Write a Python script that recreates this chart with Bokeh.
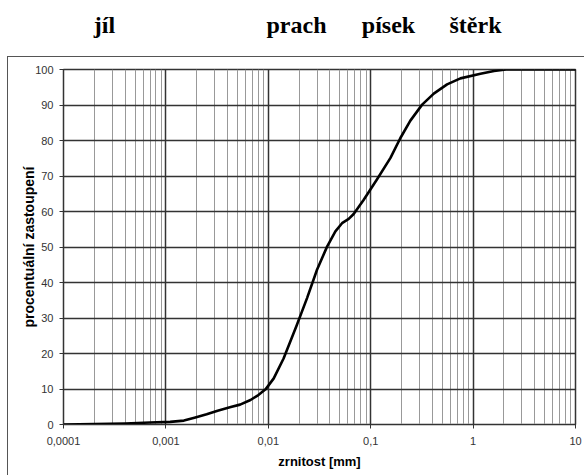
from bokeh.plotting import figure
from bokeh.layouts import column
from bokeh.models import Range1d, FixedTicker, CustomJSTickFormatter, Label
from bokeh.embed import file_html
from bokeh.resources import INLINE

# ---- data ----
grain_mm = [0.0001, 0.0002, 0.0004, 0.0007, 0.0011, 0.0015, 0.0019, 0.0025,
            0.0032, 0.0043, 0.0053, 0.0067, 0.008, 0.0094, 0.0113, 0.0141,
            0.019, 0.0239, 0.0299, 0.0375, 0.0452, 0.0525, 0.061, 0.0682,
            0.0855, 0.115, 0.156, 0.195, 0.244, 0.318, 0.413, 0.557, 0.752,
            1.18, 1.6, 2.1, 5.0, 10.0]
passing_pct = [0.0, 0.1, 0.3, 0.55, 0.75, 1.1, 1.9, 2.9,
               3.9, 4.9, 5.6, 6.9, 8.3, 9.9, 13.0, 18.6,
               28.0, 35.6, 43.6, 50.1, 54.4, 56.7, 57.9, 59.3,
               63.3, 69.0, 75.1, 80.7, 85.6, 90.1, 93.2, 95.8, 97.5,
               98.8, 99.6, 100.0, 100.0, 100.0]

x_ticks = [0.0001, 0.001, 0.01, 0.1, 1, 10]
x_tick_labels = ["0,0001", "0,001", "0,01", "0,1", "1", "10"]
x_minor = [m * d for d in [0.0001, 0.001, 0.01, 0.1, 1] for m in range(2, 10)]
y_ticks = list(range(0, 101, 10))

zone_names = ["jíl", "prach", "písek", "štěrk"]
zone_label_px = [104, 296, 388, 475]

# ---- header with the soil class names ----
top = figure(width=584, height=56, output_backend="svg", toolbar_location=None,
             x_range=Range1d(0, 584), y_range=Range1d(0, 56),
             x_axis_location=None, y_axis_location=None,
             min_border=0, min_border_left=0, min_border_right=0,
             min_border_top=0, min_border_bottom=0, frame_align=False)
top.grid.visible = False
top.outline_line_color = None
for name, px in zip(zone_names, zone_label_px):
    top.add_layout(Label(x=px, y=32, text=name, text_align="center",
                         text_baseline="alphabetic", text_font="Liberation Serif",
                         text_font_style="bold", text_font_size="24px",
                         text_color="#000000"))

# ---- main chart ----
p = figure(width=577, height=419, output_backend="svg", toolbar_location=None,
           x_axis_type="log", x_range=Range1d(0.0001, 10), y_range=Range1d(0, 100),
           min_border_left=55, min_border_right=10, min_border_top=12,
           min_border_bottom=52, margin=(0, 0, 0, 7), frame_align=False,
           styles={"border-top": "1px solid #555555", "border-left": "1px solid #555555"})

p.line(grain_mm, passing_pct, line_color="black", line_width=2.6,
       line_join="round", line_cap="round")

p.xaxis.ticker = FixedTicker(ticks=x_ticks, minor_ticks=x_minor)
p.xaxis.formatter = CustomJSTickFormatter(
    args=dict(tvals=x_ticks, tlabels=x_tick_labels),
    code="""
    for (let i = 0; i < tvals.length; i++) {
        if (Math.abs(Math.log10(tvals[i]) - Math.log10(tick)) < 1e-6) return tlabels[i];
    }
    return '';
    """)
p.yaxis.ticker = FixedTicker(ticks=y_ticks)

for ax in (p.xaxis[0], p.yaxis[0]):
    ax.axis_line_color = "#333333"
    ax.major_tick_line_color = "#333333"
    ax.major_tick_out = 4
    ax.major_tick_in = 0
    ax.minor_tick_line_color = None
    ax.major_label_text_font = "Liberation Sans"
    ax.major_label_text_font_size = "11px"
    ax.major_label_text_color = "#333333"
    ax.axis_label_text_font = "Liberation Sans"
    ax.axis_label_text_font_style = "bold"
    ax.axis_label_text_color = "#000000"

p.xaxis.axis_label = "zrnitost [mm]"
p.xaxis.axis_label_text_font_size = "13px"
p.xaxis.major_label_standoff = 8
p.xaxis.axis_label_standoff = 6
p.yaxis.axis_label = "procentuální zastoupení"
p.yaxis.axis_label_text_font_size = "14px"
p.yaxis.major_label_standoff = 6
p.yaxis.axis_label_standoff = -5

p.xgrid.grid_line_color = "#333333"
p.xgrid.grid_line_width = 1.5
p.xgrid.minor_grid_line_color = "#999999"
p.xgrid.minor_grid_line_width = 1
p.ygrid.grid_line_color = "#333333"
p.ygrid.grid_line_width = 1.5
p.outline_line_color = "#333333"
p.outline_line_width = 1.5

layout = column(top, p, spacing=0)
open("out.html", "w").write(file_html(layout, INLINE))
